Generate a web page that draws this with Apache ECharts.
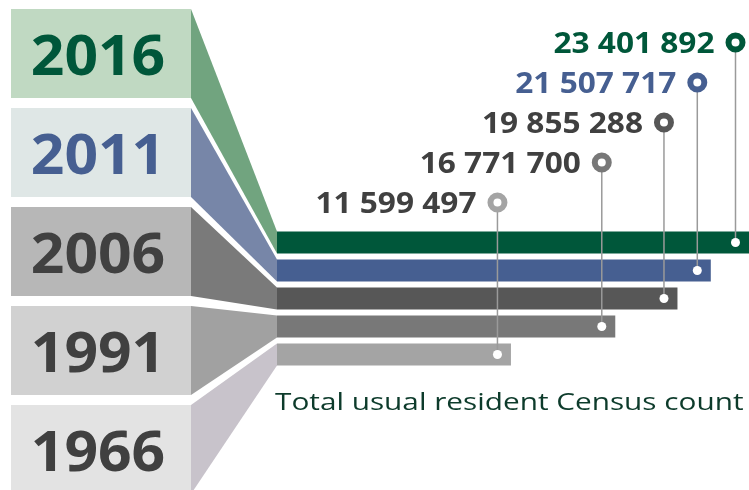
<!DOCTYPE html>
<html><head><meta charset="utf-8">
<script src="https://cdn.jsdelivr.net/npm/echarts@6/dist/echarts.min.js"></script>
<style>html,body{margin:0;padding:0;background:#fff}#c{width:749px;height:490px}</style>
</head><body><div id="c"></div>
<script>
// ---- data ----
const years = ['2016', '2011', '2006', '1991', '1966'];
const counts = [23401892, 21507717, 19855288, 16771700, 11599497];
const caption = 'Total usual resident Census count';
// ---- styles ----
const barColors = ['#00573a', '#465f91', '#575757', '#787878', '#a4a4a4'];
const boxColors = ['#c0d9c2', '#dfe7e6', '#b7b7b7', '#d1d1d1', '#e3e3e3'];
const wedgeColors = ['#71a47f', '#7786a8', '#7a7a7a', '#a1a1a1', '#c8c3cb'];
const yearTextColors = ['#00573a', '#465f91', '#404040', '#404040', '#404040'];
const labelColors = ['#00573a', '#465f91', '#404040', '#404040', '#404040'];

const BAR_W = 22;
const END_INSET = 13.5;
const fmt = v => String(v).replace(/\B(?=(\d{3})+(?!\d))/g, ' ');

const chart = echarts.init(document.getElementById('c'), null, {renderer: 'canvas'});
const barSeries = {
  type: 'bar', xAxisIndex: 0, yAxisIndex: 0, barWidth: BAR_W, silent: true, z: 2,
  data: counts.map((v, i) => ({value: v, itemStyle: {color: barColors[i]}}))
};
chart.setOption({
  animation: false,
  graphic: [{
    type: 'text', x: 275, y: 403, scaleX: 1.24,
    style: {text: caption, fill: '#0d3b2b', font: '24px "Open Sans"', align: 'left', verticalAlign: 'middle'}
  }],
  grid: [
    {left: 277, top: 228.5, width: 472, height: 140},
    {left: 277, top: 22.5, width: 472, height: 200},
    {left: 11, top: 53.5, width: 180, height: 396}
  ],
  xAxis: [
    {gridIndex: 0, type: 'value', min: 0, max: 'dataMax', show: false},
    {gridIndex: 1, type: 'value', min: 0, max: 'dataMax', show: false},
    {gridIndex: 2, type: 'value', min: 0, max: 1, show: false}
  ],
  yAxis: [
    {gridIndex: 0, type: 'category', data: years, inverse: true, show: false},
    {gridIndex: 1, type: 'category', data: years, inverse: true, show: false},
    {gridIndex: 2, type: 'category', data: years, inverse: true, show: false, boundaryGap: false}
  ],
  series: [barSeries]
});

chart.setOption({
  series: [
    barSeries,
    {
      // year boxes + wedges to the bars
      type: 'custom', xAxisIndex: 2, yAxisIndex: 2, silent: true, z: 1,
      data: years.map((y, i) => [0, i]),
      renderItem: function (params, api) {
        const i = api.value(1);
        const c = api.coord([0, i]);
        const c1 = api.coord([1, i]);
        const band = api.size([0, 1])[1];
        const top = c[1] - band / 2 + 5, h = band - 10;
        const bp = chart.convertToPixel({gridIndex: 0}, [0, i]);
        const bTop = bp[1] - BAR_W / 2, bBot = bp[1] + BAR_W / 2;
        return {
          type: 'group', children: [
            {type: 'polygon', shape: {points: [[c1[0], top], [bp[0], bTop], [bp[0], bBot], [c1[0], top + h]]},
              style: {fill: wedgeColors[i]}},
            {type: 'rect', shape: {x: c[0], y: top, width: c1[0] - c[0], height: h}, style: {fill: boxColors[i]}},
            {type: 'text', x: (c[0] + c1[0]) / 2 - 3, y: c[1] + 6, scaleX: 1.05,
              style: {text: years[i], fill: yearTextColors[i], font: 'bold 56px "Open Sans"', align: 'center', verticalAlign: 'middle'}}
          ]
        };
      }
    },
    {
      // rings, labels, connectors and bar-end dots
      type: 'custom', xAxisIndex: 1, yAxisIndex: 1, silent: true, z: 5,
      data: counts.map((v, i) => [v, i]),
      renderItem: function (params, api) {
        const v = api.value(0), i = api.value(1);
        const p = api.coord([v, i]);
        const bp = chart.convertToPixel({gridIndex: 0}, [v, i]);
        const x = p[0] - END_INSET;
        return {
          type: 'group', children: [
            {type: 'line', shape: {x1: x, y1: p[1], x2: x, y2: bp[1]}, style: {stroke: '#9a9a9a', lineWidth: 1.5}},
            {type: 'circle', shape: {cx: x, cy: p[1], r: 7}, style: {fill: '#fff', stroke: barColors[i], lineWidth: 6}},
            {type: 'circle', shape: {cx: x, cy: bp[1], r: 4.5}, style: {fill: '#fff'}},
            {type: 'text', x: x - 21, y: p[1] + 2.5, scaleX: 1.09,
              style: {text: fmt(counts[i]), fill: labelColors[i], font: 'bold 29px "Open Sans"', align: 'right', verticalAlign: 'middle'}}
          ]
        };
      }
    }
  ]
});
</script></body></html>
